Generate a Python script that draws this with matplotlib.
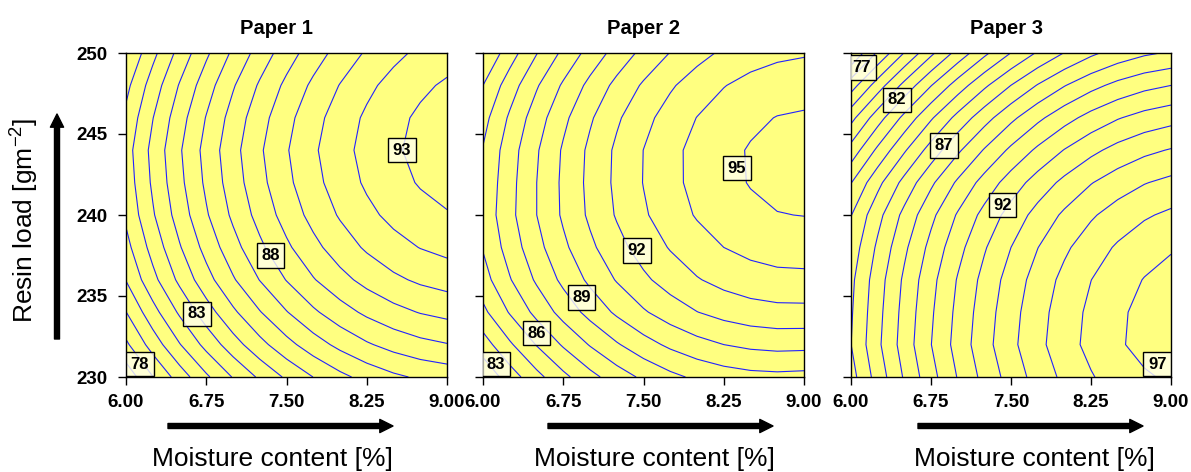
import numpy as np
import matplotlib.pyplot as plt
from matplotlib.patches import FancyArrowPatch

plt.rcParams['font.family'] = ['Liberation Sans', 'DejaVu Sans']

# grid (moisture x resin load)
x_grid = [6.00, 6.25, 6.50, 6.75, 7.00, 7.25, 7.50, 7.75, 8.00, 8.25, 8.50, 8.75, 9.00]
y_grid = [230, 232, 234, 236, 238, 240, 242, 244, 246, 248, 250]

z_paper1 = [
    [76.35, 77.97, 79.46, 80.83, 82.06, 83.17, 84.16, 85.01, 85.74, 86.34, 86.81, 87.15, 87.37],
    [77.81, 79.44, 80.94, 82.31, 83.56, 84.68, 85.67, 86.54, 87.27, 87.88, 88.36, 88.72, 88.95],
    [78.98, 80.63, 82.15, 83.54, 84.81, 85.94, 86.95, 87.83, 88.58, 89.20, 89.69, 90.05, 90.29],
    [80.04, 81.70, 83.22, 84.62, 85.89, 87.03, 88.04, 88.93, 89.68, 90.31, 90.80, 91.17, 91.41],
    [80.68, 82.36, 83.91, 85.34, 86.63, 87.79, 88.82, 89.72, 90.50, 91.14, 91.65, 92.03, 92.29],
    [81.20, 82.89, 84.45, 85.89, 87.19, 88.36, 89.40, 90.32, 91.10, 91.75, 92.27, 92.67, 92.93],
    [81.44, 83.16, 84.74, 86.19, 87.51, 88.70, 89.76, 90.69, 91.48, 92.15, 92.68, 93.08, 93.35],
    [81.57, 83.29, 84.88, 86.34, 87.66, 88.86, 89.92, 90.85, 91.65, 92.32, 92.86, 93.27, 93.54],
    [81.24, 82.97, 84.58, 86.05, 87.40, 88.61, 89.70, 90.65, 91.47, 92.17, 92.73, 93.17, 93.47],
    [80.72, 82.46, 84.07, 85.55, 86.90, 88.13, 89.23, 90.20, 91.04, 91.76, 92.35, 92.81, 93.14],
    [79.98, 81.72, 83.33, 84.82, 86.18, 87.42, 88.53, 89.52, 90.38, 91.12, 91.73, 92.22, 92.58],
]

z_paper2 = [
    [82.19, 83.50, 84.69, 85.75, 86.69, 87.50, 88.19, 88.75, 89.19, 89.50, 89.69, 89.75, 89.69],
    [83.53, 84.85, 86.05, 87.12, 88.07, 88.90, 89.61, 90.20, 90.66, 91.00, 91.22, 91.32, 91.29],
    [84.76, 86.08, 87.28, 88.37, 89.33, 90.17, 90.89, 91.49, 91.98, 92.34, 92.58, 92.70, 92.71],
    [85.59, 86.93, 88.14, 89.24, 90.21, 91.07, 91.81, 92.43, 92.93, 93.31, 93.57, 93.72, 93.75],
    [86.07, 87.43, 88.67, 89.79, 90.79, 91.67, 92.43, 93.07, 93.60, 94.00, 94.28, 94.44, 94.48],
    [86.32, 87.72, 88.99, 90.15, 91.18, 92.09, 92.87, 93.54, 94.08, 94.50, 94.79, 94.97, 95.02],
    [86.21, 87.66, 88.99, 90.19, 91.26, 92.21, 93.03, 93.72, 94.29, 94.73, 95.05, 95.24, 95.30],
    [86.06, 87.54, 88.89, 90.12, 91.21, 92.18, 93.01, 93.72, 94.30, 94.75, 95.07, 95.27, 95.33],
    [85.65, 87.15, 88.52, 89.76, 90.87, 91.85, 92.70, 93.42, 94.02, 94.48, 94.82, 95.03, 95.11],
    [85.00, 86.51, 87.89, 89.14, 90.27, 91.27, 92.13, 92.87, 93.48, 93.96, 94.32, 94.54, 94.64],
    [84.01, 85.54, 86.95, 88.22, 89.37, 90.38, 91.27, 92.03, 92.66, 93.17, 93.54, 93.78, 93.90],
]

z_paper3 = [
    [84.61, 86.43, 88.11, 89.65, 91.05, 92.31, 93.42, 94.40, 95.23, 95.92, 96.47, 96.88, 97.15],
    [84.99, 86.79, 88.45, 89.98, 91.37, 92.63, 93.75, 94.73, 95.58, 96.29, 96.87, 97.31, 97.61],
    [84.89, 86.68, 88.34, 89.86, 91.25, 92.51, 93.64, 94.63, 95.49, 96.22, 96.82, 97.28, 97.61],
    [84.77, 86.54, 88.18, 89.69, 91.07, 92.31, 93.43, 94.41, 95.27, 95.99, 96.58, 97.04, 97.37],
    [84.42, 86.18, 87.80, 89.30, 90.66, 91.90, 93.00, 93.98, 94.82, 95.54, 96.12, 96.58, 96.90],
    [83.96, 85.68, 87.28, 88.75, 90.10, 91.31, 92.39, 93.35, 94.17, 94.87, 95.44, 95.88, 96.19],
    [82.96, 84.71, 86.32, 87.81, 89.16, 90.38, 91.47, 92.43, 93.25, 93.95, 94.51, 94.95, 95.25],
    [81.39, 83.21, 84.88, 86.42, 87.82, 89.08, 90.21, 91.19, 92.04, 92.75, 93.33, 93.77, 94.07],
    [79.68, 81.55, 83.28, 84.87, 86.31, 87.60, 88.76, 89.77, 90.63, 91.35, 91.93, 92.36, 92.65],
    [77.53, 79.49, 81.30, 82.96, 84.46, 85.81, 87.01, 88.06, 88.95, 89.69, 90.28, 90.72, 91.00],
    [75.07, 77.14, 79.04, 80.78, 82.35, 83.77, 85.02, 86.11, 87.03, 87.80, 88.40, 88.84, 89.11],
]

titles = ['Paper 1', 'Paper 2', 'Paper 3']
x_ticks = [6.00, 6.75, 7.50, 8.25, 9.00]
y_ticks = [230, 235, 240, 245, 250]
label_levels = [[78, 83, 88, 93], [83, 86, 89, 92, 95], [77, 82, 87, 92, 97]]
label_spots = [
    [(6.13, 230.8), (6.66, 233.9), (7.35, 237.5), (8.58, 244.0)],
    [(6.12, 230.8), (6.50, 232.7), (6.92, 234.9), (7.44, 237.8), (8.37, 242.9)],
    [(6.10, 249.1), (6.43, 247.1), (6.87, 244.3), (7.42, 240.6), (8.87, 230.8)],
]

W, H = 1191, 472
fig = plt.figure(figsize=(W / 100, H / 100), dpi=100)

# axes boxes in pixels: left, top, width, height
boxes = [(126, 53, 321, 324), (483, 53, 321, 324), (851, 53, 320, 324)]
title_x = [0.469, 0.5, 0.486]
xlabel_cx = [272, 654, 1034]
arrow_x = [(168, 393), (548, 773), (918, 1143)]

surfaces = [z_paper1, z_paper2, z_paper3]
for i, z in enumerate(surfaces):
    l, t, w, h = boxes[i]
    ax = fig.add_axes([l / W, (H - t - h) / H, w / W, h / H])
    ax.set_facecolor('#ffff80')
    zz = np.array(z)
    ax.contour(x_grid, y_grid, zz, levels=np.arange(70, 100),
               colors='#2222ff', linewidths=0.8)
    # separate set holding only the labelled levels (lines not drawn twice)
    cs_lab = ax.contour(x_grid, y_grid, zz, levels=label_levels[i],
                        colors='#2222ff', linewidths=0)
    texts = ax.clabel(cs_lab, manual=label_spots[i], inline=False, fmt='%d',
                      colors='black')
    for tx, spot in zip(texts, label_spots[i]):
        tx.set_position(spot)
        tx.set_rotation(0)
        tx.set_fontsize(12)
        tx.set_fontweight('bold')
        tx.set_bbox(dict(boxstyle='square,pad=0.28', fc=(1, 1, 0.93, 0.8),
                         ec='black', lw=1))
        tx.set_zorder(5)

    ax.set_xlim(6, 9)
    ax.set_ylim(230, 250)
    ax.set_xticks(x_ticks)
    ax.set_xticklabels(['%.2f' % v for v in x_ticks])
    ax.set_yticks(y_ticks)
    if i > 0:
        ax.set_yticklabels([])
    ax.tick_params(direction='out', length=6, width=1, labelsize=13.5,
                   top=False, right=False)
    ax.tick_params(axis='x', pad=6)
    ax.tick_params(axis='y', pad=7)
    for lab in ax.get_xticklabels() + ax.get_yticklabels():
        lab.set_fontweight('bold')
    for sp in ax.spines.values():
        sp.set_linewidth(1)

    ax.text(title_x[i], 1.06, titles[i], transform=ax.transAxes, ha='center',
            va='baseline', fontsize=14.5, fontweight='bold')

    fig.text(xlabel_cx[i] / W, 6 / H, 'Moisture content [%]', ha='center',
             va='baseline', fontsize=19)

    xa, xb = arrow_x[i]
    fig.add_artist(FancyArrowPatch((xa / 100, 46 / 100), (xb / 100, 46 / 100),
                                   transform=fig.dpi_scale_trans,
                                   arrowstyle='simple,head_length=0.5,head_width=0.5,tail_width=0.19',
                                   mutation_scale=19, color='black', shrinkA=0, shrinkB=0))

fig.add_artist(FancyArrowPatch((57 / 100, 133 / 100), (57 / 100, 358 / 100),
                               transform=fig.dpi_scale_trans,
                               arrowstyle='simple,head_length=0.5,head_width=0.5,tail_width=0.19',
                               mutation_scale=19, color='black', shrinkA=0, shrinkB=0))

fig.text(24 / W, 252 / H, 'Resin load [gm$^{\\mathregular{-2}}$]', rotation=90,
         ha='center', va='center', fontsize=19)

fig.savefig('out.png', dpi=100)
